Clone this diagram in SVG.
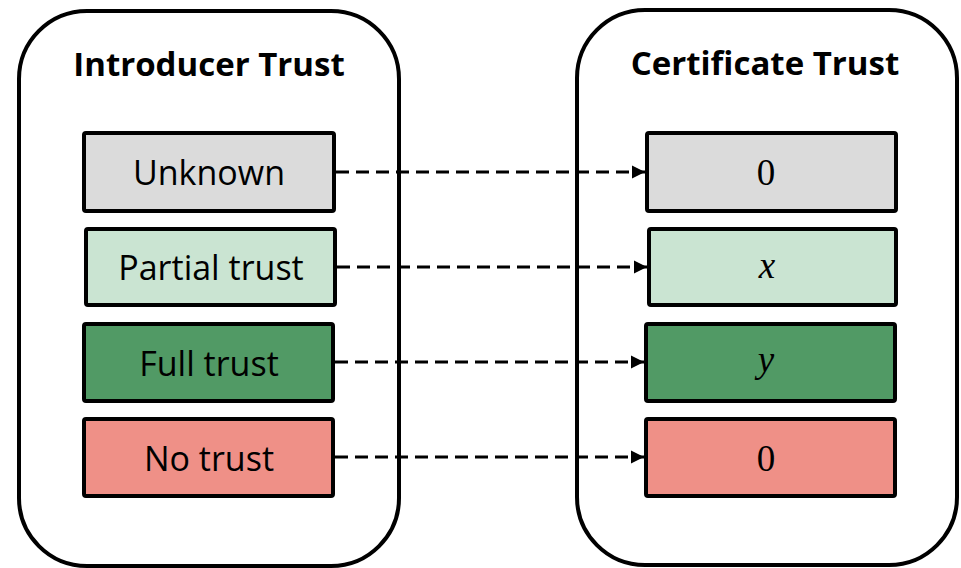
<svg xmlns="http://www.w3.org/2000/svg" width="961" height="568" viewBox="0 0 961 568">
<style>
.panel{fill:#fff;stroke:#000;stroke-width:4}
.box{stroke:#000;stroke-width:4}
.title{font-family:"Open Sans","Liberation Sans",sans-serif;font-weight:bold;font-size:33px;text-anchor:middle;fill:#000}
.lbl{font-family:"Open Sans","Liberation Sans",sans-serif;font-size:34px;text-anchor:middle;fill:#000}
.val{font-family:"Liberation Serif","DejaVu Serif",serif;font-size:37px;text-anchor:middle;fill:#000}
.it{font-style:italic}
.conn{stroke:#000;stroke-width:3;stroke-dasharray:13 7;fill:none}
.grey{fill:#DBDBDB}.lg{fill:#CAE4D2}.dg{fill:#519A65}.red{fill:#EF9087}
</style>
<defs>
<marker id="ah" viewBox="0 0 10 10" refX="10" refY="5" markerWidth="4.5" markerHeight="4.5" markerUnits="strokeWidth" orient="auto">
<path d="M0,0 L10,5 L0,10 Z" fill="#000"/>
</marker>
</defs>
<g id="introducer-panel">
<rect class="panel" x="19" y="11" width="380" height="555" rx="68"/>
<text class="title" x="209" y="76">Introducer Trust</text>
</g>
<g id="certificate-panel">
<rect class="panel" x="577" y="10" width="380" height="555" rx="68"/>
<text class="title" x="765" y="75">Certificate Trust</text>
</g>
<g id="unknown">
<rect class="box grey" x="84" y="133" width="250" height="78" rx="2"/>
<text class="lbl" x="209" y="185">Unknown</text>
</g>
<g id="partial">
<rect class="box lg" x="86" y="229" width="249" height="76" rx="2"/>
<text class="lbl" x="211" y="280">Partial trust</text>
</g>
<g id="full">
<rect class="box dg" x="84" y="324" width="249" height="77" rx="2"/>
<text class="lbl" x="209" y="376">Full trust</text>
</g>
<g id="notrust">
<rect class="box red" x="84" y="419" width="249" height="77" rx="2"/>
<text class="lbl" x="209" y="471">No trust</text>
</g>
<g id="val-unknown">
<rect class="box grey" x="647" y="133" width="249" height="78" rx="2"/>
<text class="val" x="766" y="185">0</text>
</g>
<g id="val-partial">
<rect class="box lg" x="649" y="229" width="247" height="76" rx="2"/>
<text class="val it" x="767" y="278">x</text>
</g>
<g id="val-full">
<rect class="box dg" x="646" y="324" width="249" height="77" rx="2"/>
<text class="val it" x="766" y="372">y</text>
</g>
<g id="val-notrust">
<rect class="box red" x="646" y="419" width="249" height="77" rx="2"/>
<text class="val" x="766" y="471">0</text>
</g>
<g id="connectors">
<line class="conn" x1="336" y1="172" x2="645" y2="172" marker-end="url(#ah)"/>
<line class="conn" x1="337" y1="267" x2="647" y2="267" marker-end="url(#ah)"/>
<line class="conn" x1="335" y1="362" x2="644" y2="362" marker-end="url(#ah)"/>
<line class="conn" x1="335" y1="457" x2="644" y2="457" marker-end="url(#ah)"/>
</g>
</svg>
